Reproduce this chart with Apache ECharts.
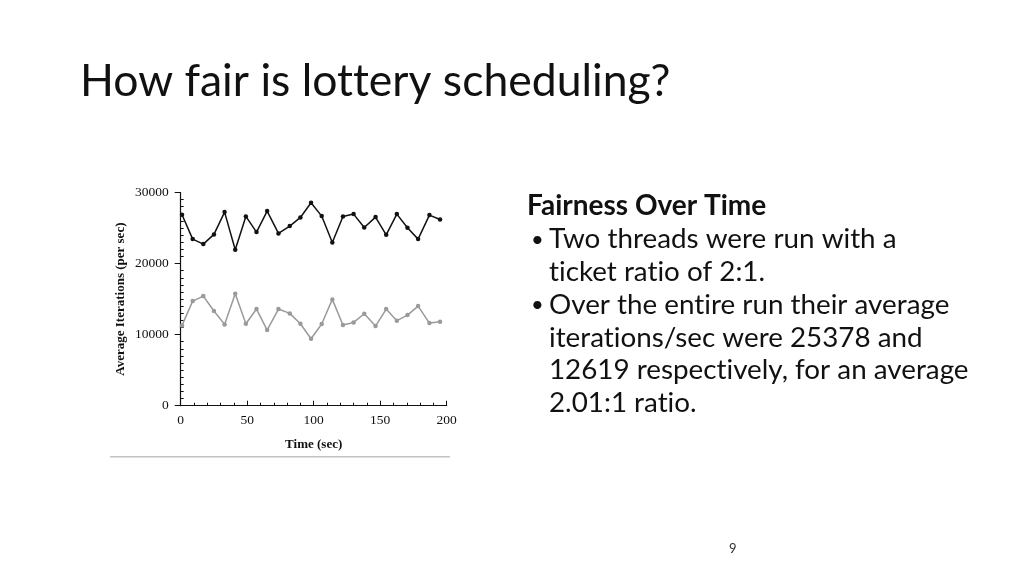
<!DOCTYPE html>
<html>
<head>
<meta charset="utf-8">
<script src="https://cdn.jsdelivr.net/npm/echarts@6/dist/echarts.min.js"></script>
<style>
html,body{margin:0;padding:0;background:#fff;}
#c{width:1024px;height:576px;}
</style>
</head>
<body>
<div id="c"></div>
<script>
// Data
const timeSec = [1, 9, 17, 25, 33, 41, 49, 57, 65, 73.5, 82, 90, 98, 106, 114, 122, 130, 138, 146.5, 154.5, 162.5, 170.5, 178.5, 187, 195];
const threadA = [26860, 23440, 22740, 24100, 27240, 21940, 26630, 24430, 27380, 24240, 25270, 26490, 28550, 26680, 22970, 26630, 26960, 25080, 26540, 24050, 26960, 25040, 23440, 26820, 26210];
const threadB = [11300, 14720, 15420, 13320, 11440, 15750, 11530, 13600, 10640, 13600, 12990, 11530, 9420, 11490, 14960, 11350, 11720, 12940, 11210, 13600, 11960, 12750, 14020, 11630, 11810];
const xTicks = [0, 50, 100, 150, 200];
const yTicks = [0, 10000, 20000, 30000];

const titleText = 'How fair is lottery scheduling?';
const headingText = 'Fairness Over Time';
const bodyLines = [
  {bullet: true, text: 'Two threads were run with a'},
  {bullet: false, text: 'ticket ratio of 2:1.'},
  {bullet: true, text: 'Over the entire run their average'},
  {bullet: false, text: 'iterations/sec were 25378 and'},
  {bullet: false, text: '12619 respectively, for an average'},
  {bullet: false, text: '2.01:1 ratio.'}
];

// break ligatures (ti, tt, fi, fl) with a zero-width non-joiner
function noLig(s){ return s.replace(/([tf])(?=[itlf])/g, '$1\u200C'); }
function pairs(xs, ys){ return xs.map((x,i)=>[x, ys[i]]); }

const chart = echarts.init(document.getElementById('c'), null, {renderer:'canvas'});
const serif = '"Liberation Serif", "DejaVu Serif", serif';
const sans = 'Lato, "Open Sans", sans-serif';

const graphics = [
  {type:'text', left:80, top:59, style:{text:noLig(titleText), font:'44.5px ' + sans, fill:'#111'}},
  {type:'text', left:527, top:192, style:{text:noLig(headingText), font:'bold 28px ' + sans, fill:'#111'}},
  {type:'line', shape:{x1:110, y1:456.7, x2:450, y2:456.7}, style:{stroke:'#c4c4c4', lineWidth:1.6}},
  {type:'text', left:729, top:542, style:{text:'9', font:'13px ' + sans, fill:'#333'}}
];
bodyLines.forEach((ln, i) => {
  const top = 225.5 + i * 32.7;
  if (ln.bullet) {
    graphics.push({type:'text', left:531, top:top + 3, style:{text:'•', font:'22px ' + sans, fill:'#111'}});
  }
  graphics.push({type:'text', left:549, top:top, style:{text:noLig(ln.text), font:'27.8px ' + sans, fill:'#111'}});
});

chart.setOption({
  animation:false,
  backgroundColor:'#fff',
  grid:{left:180.7, right:1024-446.7, top:192.5, bottom:576-405.7, containLabel:false, outerBoundsMode:'none'},
  xAxis:{
    type:'value', min:0, max:200, interval:50,
    name:'Time (sec)', nameLocation:'middle', nameGap:32,
    nameTextStyle:{fontFamily:serif, fontWeight:'bold', fontSize:13, color:'#111'},
    axisLine:{show:true, onZero:false, lineStyle:{color:'#111', width:1.2}},
    axisTick:{show:true, inside:true, length:5, lineStyle:{color:'#111', width:1}},
    minorTick:{show:true, splitNumber:5, length:3, lineStyle:{color:'#111', width:1}},
    axisLabel:{fontFamily:serif, fontSize:13.5, color:'#111', margin:8,
      customValues: xTicks, formatter: v => String(v)},
    splitLine:{show:false}, minorSplitLine:{show:false}
  },
  yAxis:[{
    type:'value', min:0, max:30000, interval:10000,
    name:'Average Iterations (per sec)', nameLocation:'middle', nameGap:54, nameRotate:90,
    nameTextStyle:{fontFamily:serif, fontWeight:'bold', fontSize:13, color:'#111'},
    axisLine:{show:true, onZero:false, lineStyle:{color:'#111', width:1.2}},
    axisTick:{show:true, inside:false, length:6, lineStyle:{color:'#111', width:1}},
    minorTick:{show:false},
    axisLabel:{fontFamily:serif, fontSize:13.5, color:'#111', margin:12, customValues: yTicks,
      formatter: v => String(v)},
    splitLine:{show:false}
  },{
    type:'value', min:0, max:30000, interval:10000, position:'left',
    axisLine:{show:false},
    axisTick:{show:false, inside:true},
    minorTick:{show:true, splitNumber:10, length:3, lineStyle:{color:'#111', width:1}},
    axisLabel:{show:false},
    splitLine:{show:false}, minorSplitLine:{show:false}
  }],
  series:[
    {type:'line', name:'A', data:pairs(timeSec, threadA), yAxisIndex:0,
     symbol:'circle', symbolSize:4.5, showSymbol:true,
     lineStyle:{color:'#111', width:1.5}, itemStyle:{color:'#111'}},
    {type:'line', name:'B', data:pairs(timeSec, threadB), yAxisIndex:0,
     symbol:'circle', symbolSize:4.5, showSymbol:true,
     lineStyle:{color:'#9a9a9a', width:1.5}, itemStyle:{color:'#9a9a9a'}}
  ],
  graphic: graphics
});
</script>
</body>
</html>
